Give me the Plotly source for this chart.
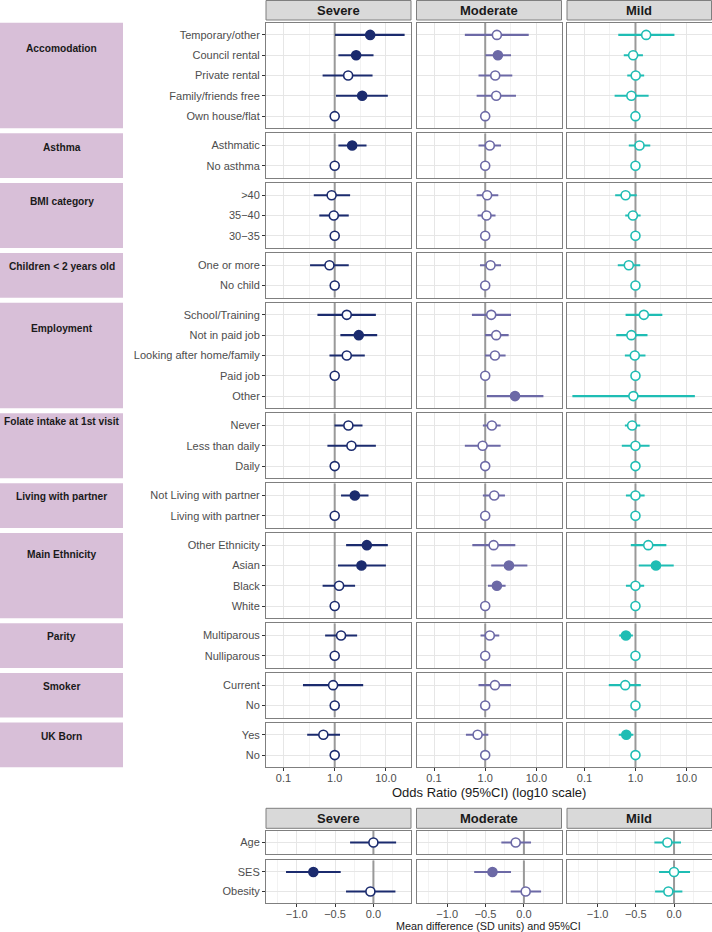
import plotly.graph_objects as go

# ---------------- data ----------------
groups = ["Accomodation", "Asthma", "BMI category", "Children < 2 years old", "Employment",
          "Folate intake at 1st visit", "Living with partner", "Main Ethnicity", "Parity",
          "Smoker", "UK Born"]
group_levels = [
    ["Temporary/other", "Council rental", "Private rental", "Family/friends free", "Own house/flat"],
    ["Asthmatic", "No asthma"],
    [">40", "35\u221240", "30\u221235"],
    ["One or more", "No child"],
    ["School/Training", "Not in paid job", "Looking after home/family", "Paid job", "Other"],
    ["Never", "Less than daily", "Daily"],
    ["Not Living with partner", "Living with partner"],
    ["Other Ethnicity", "Asian", "Black", "White"],
    ["Multiparous", "Nulliparous"],
    ["Current", "No"],
    ["Yes", "No"],
]
severities = ["Severe", "Moderate", "Mild"]

severe_or = [4.93, 2.62, 1.83, 3.44, 1, 2.19, 1, 0.87, 0.96, 1, 0.79, 1,
             1.72, 2.95, 1.72, 1, None, 1.85, 2.12, 1, 2.47, 1, 4.24, 3.33, 1.22, 1,
             1.33, 1, 0.93, 1, 0.60, 1]
severe_lo = [1.01, 1.18, 0.58, 1.06, None, 1.18, None, 0.39, 0.50, None, 0.33, None,
             0.46, 1.29, 0.79, None, None, 0.99, 0.72, None, 1.33, None, 1.67, 1.16, 0.58, None,
             0.65, None, 0.24, None, 0.29, None]
severe_hi = [23.2, 5.73, 5.48, 10.9, None, 4.18, None, 2.0, 1.88, None, 1.88, None,
             6.37, 6.76, 3.87, None, None, 3.49, 6.37, None, 4.57, None, 10.9, 10.0, 2.5, None,
             2.74, None, 3.6, None, 1.27, None]
severe_sig = [1, 1, 0, 1, 0, 1, 0, 0, 0, 0, 0, 0,
              0, 1, 0, 0, 0, 0, 0, 0, 1, 0, 1, 1, 0, 0,
              0, 0, 0, 0, 0, 0]

moderate_or = [1.69, 1.77, 1.57, 1.64, 1, 1.23, 1, 1.09, 1.06, 1, 1.27, 1,
               1.31, 1.64, 1.55, 1, 3.82, 1.35, 0.89, 1, 1.50, 1, 1.46, 2.91, 1.69, 1,
               1.23, 1, 1.55, 1, 0.71, 1]
moderate_lo = [0.40, 1.01, 0.74, 0.68, None, 0.74, None, 0.68, 0.71, None, 0.79, None,
               0.55, 0.99, 0.99, None, 1.08, 0.90, 0.40, None, 0.90, None, 0.56, 1.31, 1.13, None,
               0.81, None, 0.74, None, 0.42, None]
moderate_hi = [7.08, 3.19, 3.38, 3.99, None, 2.03, None, 1.80, 1.59, None, 2.03, None,
               3.19, 2.87, 2.5, None, 13.7, 2.0, 2.0, None, 2.43, None, 3.87, 6.66, 2.5, None,
               1.88, None, 3.19, None, 1.15, None]
moderate_sig = [0, 1, 0, 0, 0, 0, 0, 0, 0, 0, 0, 0,
                0, 0, 0, 0, 1, 0, 0, 0, 0, 0, 0, 1, 1, 0,
                0, 0, 0, 0, 0, 0]

mild_or = [1.62, 0.90, 1.01, 0.83, 1, 1.2, 1, 0.64, 0.89, 1, 0.74, 1,
           1.46, 0.83, 0.97, 1, 0.91, 0.86, 1.0, 1, 1.0, 1, 1.78, 2.52, 1.0, 1,
           0.65, 1, 0.63, 1, 0.66, 1]
mild_lo = [0.46, 0.59, 0.69, 0.39, None, 0.74, None, 0.40, 0.63, None, 0.45, None,
           0.64, 0.42, 0.62, None, 0.058, 0.62, 0.54, None, 0.65, None, 0.81, 1.16, 0.65, None,
           0.48, None, 0.30, None, 0.47, None]
mild_hi = [5.8, 1.40, 1.48, 1.81, None, 1.95, None, 1.06, 1.26, None, 1.24, None,
           3.36, 1.72, 1.57, None, 14.6, 1.24, 1.89, None, 1.51, None, 4.03, 5.62, 1.48, None,
           0.89, None, 1.27, None, 0.91, None]
mild_sig = [0, 0, 0, 0, 0, 0, 0, 0, 0, 0, 0, 0,
            0, 0, 0, 0, 0, 0, 0, 0, 0, 0, 0, 1, 0, 0,
            1, 0, 0, 0, 1, 0]

or_ticks = [0.1, 1, 10]
or_ticktext = ["0.1", "1.0", "10.0"]
or_minor = [0.0316, 0.316, 3.16, 31.6]

md_groups = [["Age"], ["SES", "Obesity"]]
severe_md = [0.0, -0.783, -0.039]
severe_md_lo = [-0.304, -1.139, -0.357]
severe_md_hi = [0.296, -0.426, 0.287]
severe_md_sig = [0, 1, 0]
moderate_md = [-0.107, -0.41, 0.023]
moderate_md_lo = [-0.294, -0.648, -0.172]
moderate_md_hi = [0.093, -0.168, 0.224]
moderate_md_sig = [0, 1, 0]
mild_md = [-0.087, 0.0, -0.074]
mild_md_lo = [-0.257, -0.196, -0.248]
mild_md_hi = [0.091, 0.209, 0.109]
mild_md_sig = [0, 0, 0]

md_ticks = [-1.0, -0.5, 0.0]
md_ticktext = ["\u22121.0", "\u22120.5", "0.0"]
md_minor = [-1.25, -0.75, -0.25, 0.25]

# ---------------- style ----------------
W, H = 712, 932
colors = {"Severe": "#1B2B6E", "Moderate": "#6C69A6", "Mild": "#1FBDB4"}
FONT = "Liberation Sans, Arial, sans-serif"
col_px = [(266, 411), (416.5, 561.5), (567, 711.5)]
label_offsets = [26, 14, 18.5, 13.5, 26, 8.5, 13.5, 22, 13.5, 14, 13.5]
S = 20.31
GAP = 5
TOP0 = 22.7


def fx(px):
    return px / W


def fy(py):
    return 1 - py / H


series = {
    "Severe": (severe_or, severe_lo, severe_hi, severe_sig),
    "Moderate": (moderate_or, moderate_lo, moderate_hi, moderate_sig),
    "Mild": (mild_or, mild_lo, mild_hi, mild_sig),
}
md_series = {
    "Severe": (severe_md, severe_md_lo, severe_md_hi, severe_md_sig),
    "Moderate": (moderate_md, moderate_md_lo, moderate_md_hi, moderate_md_sig),
    "Mild": (mild_md, mild_md_lo, mild_md_hi, mild_md_sig),
}

fig = go.Figure()
layout = {}
shapes = []
annotations = []
axis_k = [0]

grid_major = "#e6e6e6"
grid_minor = "#f2f2f2"
border = "#7f7f7f"
tickfont = dict(family=FONT, size=11, color="#4d4d4d")


def add_panel(ci, top, bot, levels, xs, los, his, sigs, sev, log, show_x):
    axis_k[0] += 1
    k = axis_k[0]
    xn = "xaxis" if k == 1 else f"xaxis{k}"
    yn = "yaxis" if k == 1 else f"yaxis{k}"
    xr = "x" if k == 1 else f"x{k}"
    yr = "y" if k == 1 else f"y{k}"
    x0p, x1p = col_px[ci]
    n = len(levels)
    xa = dict(domain=[fx(x0p), fx(x1p)], anchor=yr, showline=True, mirror=True,
              linecolor=border, linewidth=1, showgrid=True, gridcolor=grid_major, gridwidth=1,
              zeroline=False, tickfont=tickfont, showticklabels=show_x,
              ticks="outside" if show_x else "", ticklen=3, tickcolor="#333333",
              ticklabelstandoff=-3)
    if log:
        xa.update(type="log", range=[-1.342, 1.49], tickmode="array", tickvals=or_ticks,
                  ticktext=or_ticktext,
                  minor=dict(tickmode="array", tickvals=or_minor, showgrid=True,
                             gridcolor=grid_minor, gridwidth=0.8, ticks=""))
    else:
        xa.update(type="linear", range=[-1.40, 0.49], tickmode="array", tickvals=md_ticks,
                  ticktext=md_ticktext,
                  minor=dict(tickmode="array", tickvals=md_minor, showgrid=True,
                             gridcolor=grid_minor, gridwidth=0.8, ticks=""))
    ylo, yhi = -0.6, n - 1 + 0.6
    ya = dict(domain=[fy(bot), fy(top)], anchor=xr, type="category", categoryorder="array",
              categoryarray=levels, range=[yhi, ylo], showline=True, mirror=True,
              linecolor=border, linewidth=1, showgrid=True, gridcolor=grid_major, gridwidth=1,
              zeroline=False, tickfont=tickfont, showticklabels=(ci == 0),
              ticks="outside" if ci == 0 else "", ticklen=3, tickcolor="#333333")
    layout[xn] = xa
    layout[yn] = ya
    col = colors[sev]
    ref = 1 if log else 0
    shapes.append(dict(type="line", xref=xr, yref=yr, x0=ref, x1=ref, y0=ylo, y1=yhi,
                       line=dict(color="#999999", width=2), layer="between"))
    plus = [(h - v) if (h is not None and v is not None) else 0 for v, h in zip(xs, his)]
    minus = [(v - l) if (l is not None and v is not None) else 0 for v, l in zip(xs, los)]
    fills = [col if s else "white" for s in sigs]
    fig.add_trace(go.Scatter(
        x=xs, y=levels, xaxis=xr, yaxis=yr, mode="markers", showlegend=False,
        marker=dict(size=9, color=fills, line=dict(color=col, width=1.6)),
        error_x=dict(type="data", symmetric=False, array=plus, arrayminus=minus,
                     width=0, thickness=2.1, color=col),
        hoverinfo="x+y"))


# top section
y = TOP0
idx = 0
for gi, levels in enumerate(group_levels):
    n = len(levels)
    top = y
    bot = y + (n + 0.2) * S
    for ci, sev in enumerate(severities):
        o, l, h, s = series[sev]
        add_panel(ci, top, bot, levels, o[idx:idx + n], l[idx:idx + n], h[idx:idx + n],
                  s[idx:idx + n], sev, True, gi == len(group_levels) - 1)
    # left group box
    shapes.append(dict(type="rect", xref="paper", yref="paper", x0=0, x1=fx(123),
                       y0=fy(bot), y1=fy(top), fillcolor="#D8BFD8", line=dict(width=0),
                       layer="below"))
    annotations.append(dict(xref="paper", yref="paper", x=fx(61.5), y=fy(top + label_offsets[gi]),
                            text=f"<b>{groups[gi]}</b>", showarrow=False, xanchor="center",
                            yanchor="middle", font=dict(family=FONT, size=10.2, color="#1a1a1a")))
    idx += n
    y = bot + GAP

# bottom section
S2 = 19.6
bottom_tops = [830.7, 860.2]
idx = 0
for gi, levels in enumerate(md_groups):
    n = len(levels)
    top = bottom_tops[gi]
    bot = top + (n + 0.2) * S2
    for ci, sev in enumerate(severities):
        o, l, h, s = md_series[sev]
        add_panel(ci, top, bot, levels, o[idx:idx + n], l[idx:idx + n], h[idx:idx + n],
                  s[idx:idx + n], sev, False, gi == len(md_groups) - 1)
    idx += n

# strips
for (st, sb) in [(0.5, 20.0), (808.3, 828.3)]:
    for ci, sev in enumerate(severities):
        x0p, x1p = col_px[ci]
        shapes.append(dict(type="rect", xref="paper", yref="paper", x0=fx(x0p), x1=fx(x1p),
                           y0=fy(sb), y1=fy(st), fillcolor="#d9d9d9",
                           line=dict(color=border, width=1), layer="above"))
        annotations.append(dict(xref="paper", yref="paper", x=fx((x0p + x1p) / 2),
                                y=fy((st + sb) / 2), text=f"<b>{sev}</b>", showarrow=False,
                                xanchor="center", yanchor="middle",
                                font=dict(family=FONT, size=13, color="#1a1a1a")))

# axis titles
annotations.append(dict(xref="paper", yref="paper", x=fx(488.7), y=fy(792.5),
                        text="Odds Ratio (95%CI) (log10 scale)", showarrow=False,
                        xanchor="center", yanchor="middle",
                        font=dict(family=FONT, size=13, color="#1a1a1a")))
annotations.append(dict(xref="paper", yref="paper", x=fx(488.7), y=fy(926),
                        text="Mean difference (SD units) and 95%CI", showarrow=False,
                        xanchor="center", yanchor="middle",
                        font=dict(family=FONT, size=10.8, color="#1a1a1a")))

fig.update_layout(**layout)
fig.update_layout(width=W, height=H, margin=dict(l=0, r=0, t=0, b=0),
                  plot_bgcolor="white", paper_bgcolor="white", showlegend=False,
                  shapes=shapes, annotations=annotations,
                  font=dict(family=FONT, size=11, color="#4d4d4d"))

fig.write_html("out.html", config={"displayModeBar": False},
               post_script="document.body.style.margin='0px';document.body.style.overflow='hidden';")
